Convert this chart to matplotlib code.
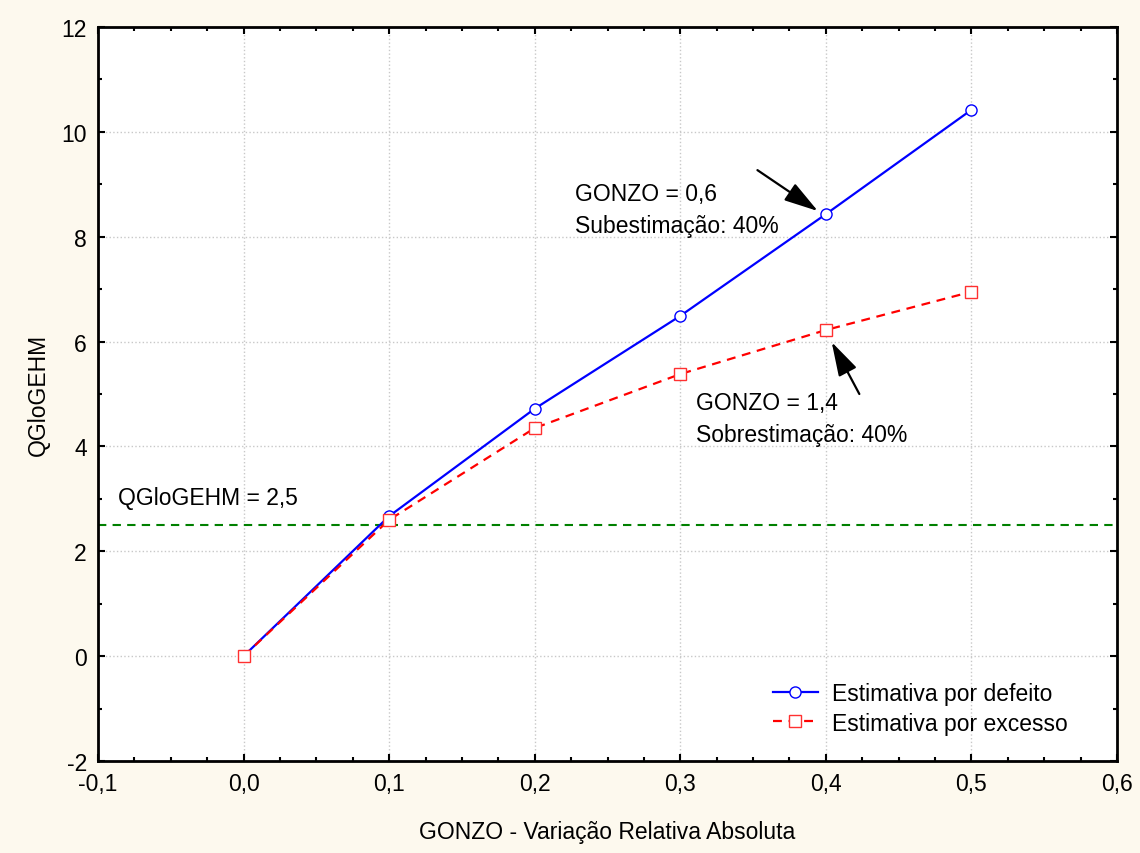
import matplotlib.pyplot as plt
from matplotlib.ticker import MultipleLocator, FuncFormatter

plt.rcParams['font.family'] = ['Liberation Sans', 'DejaVu Sans']

gonzo = [0.0, 0.1, 0.2, 0.3, 0.4, 0.5]
defeito = [0.0, 2.67, 4.72, 6.49, 8.43, 10.42]
excesso = [0.0, 2.60, 4.35, 5.38, 6.22, 6.95]
limite = 2.5

fig = plt.figure(figsize=(11.4, 8.54), dpi=100, facecolor='#fdf9ee')
ax = fig.add_axes([98 / 1140, 1 - 762 / 854, (1117 - 98) / 1140, (762 - 28) / 854])
ax.set_facecolor('white')

ax.plot(gonzo, defeito, '-', color='#0000ff', lw=1.6, marker='o', ms=8,
        mfc='white', mec='#0000ff', mew=1.0, label='Estimativa por defeito', zorder=3)
ax.plot(gonzo, excesso, '--', color='#ff0000', lw=1.6, dashes=(4, 3), marker='s', ms=8,
        mfc='white', mec='#ff3030', mew=1.0, label='Estimativa por excesso', zorder=3)
ax.axhline(limite, color='#008000', lw=1.5, ls='--', dashes=(4, 3), zorder=2)

ax.set_xlim(-0.1, 0.6)
ax.set_ylim(-2, 12)
ax.xaxis.set_major_locator(MultipleLocator(0.1))
ax.xaxis.set_minor_locator(MultipleLocator(0.025))
ax.yaxis.set_major_locator(MultipleLocator(2))
ax.yaxis.set_minor_locator(MultipleLocator(1))
ax.xaxis.set_major_formatter(FuncFormatter(lambda v, p: f'{v:.1f}'.replace('.', ',').replace('-0,0', '0,0')))
ax.yaxis.set_major_formatter(FuncFormatter(lambda v, p: f'{v:.0f}'))
ax.tick_params(which='both', direction='in', top=True, right=True, labelsize=16.5, width=1.5)
ax.tick_params(which='major', length=5, pad=8)
ax.tick_params(which='minor', length=3)
ax.grid(True, which='major', color='#c8c8c8', ls=':', lw=1)
for s in ax.spines.values():
    s.set_linewidth(2)

ax.set_xlabel('GONZO - Variação Relativa Absoluta', fontsize=16.5, labelpad=18)
ax.set_ylabel('QGloGEHM', fontsize=16.5, labelpad=8)

arrow = dict(arrowstyle='-|>,head_length=0.75,head_width=0.22', color='black', lw=1.6,
             mutation_scale=28, shrinkA=0, shrinkB=0)
ax.annotate('', xy=(0.3945, 8.49), xytext=(0.353, 9.27), arrowprops=arrow)
ax.text(0.228, 9.05, 'GONZO = 0,6\nSubestimação: 40%', fontsize=16.5,
        linespacing=1.5, va='top')
ax.annotate('', xy=(0.404, 5.99), xytext=(0.423, 5.0), arrowprops=arrow)
ax.text(0.311, 5.05, 'GONZO = 1,4\nSobrestimação: 40%', fontsize=16.5,
        linespacing=1.5, va='top')
ax.text(-0.086, 2.9, 'QGloGEHM = 2,5', fontsize=16.5)

ax.legend(loc='lower right', bbox_to_anchor=(0.972, 0.008), frameon=False, fontsize=16.5,
          handlelength=2.0, handletextpad=0.6, labelspacing=0.3, borderaxespad=0.5)

fig.savefig('out.png', dpi=100, facecolor=fig.get_facecolor())
